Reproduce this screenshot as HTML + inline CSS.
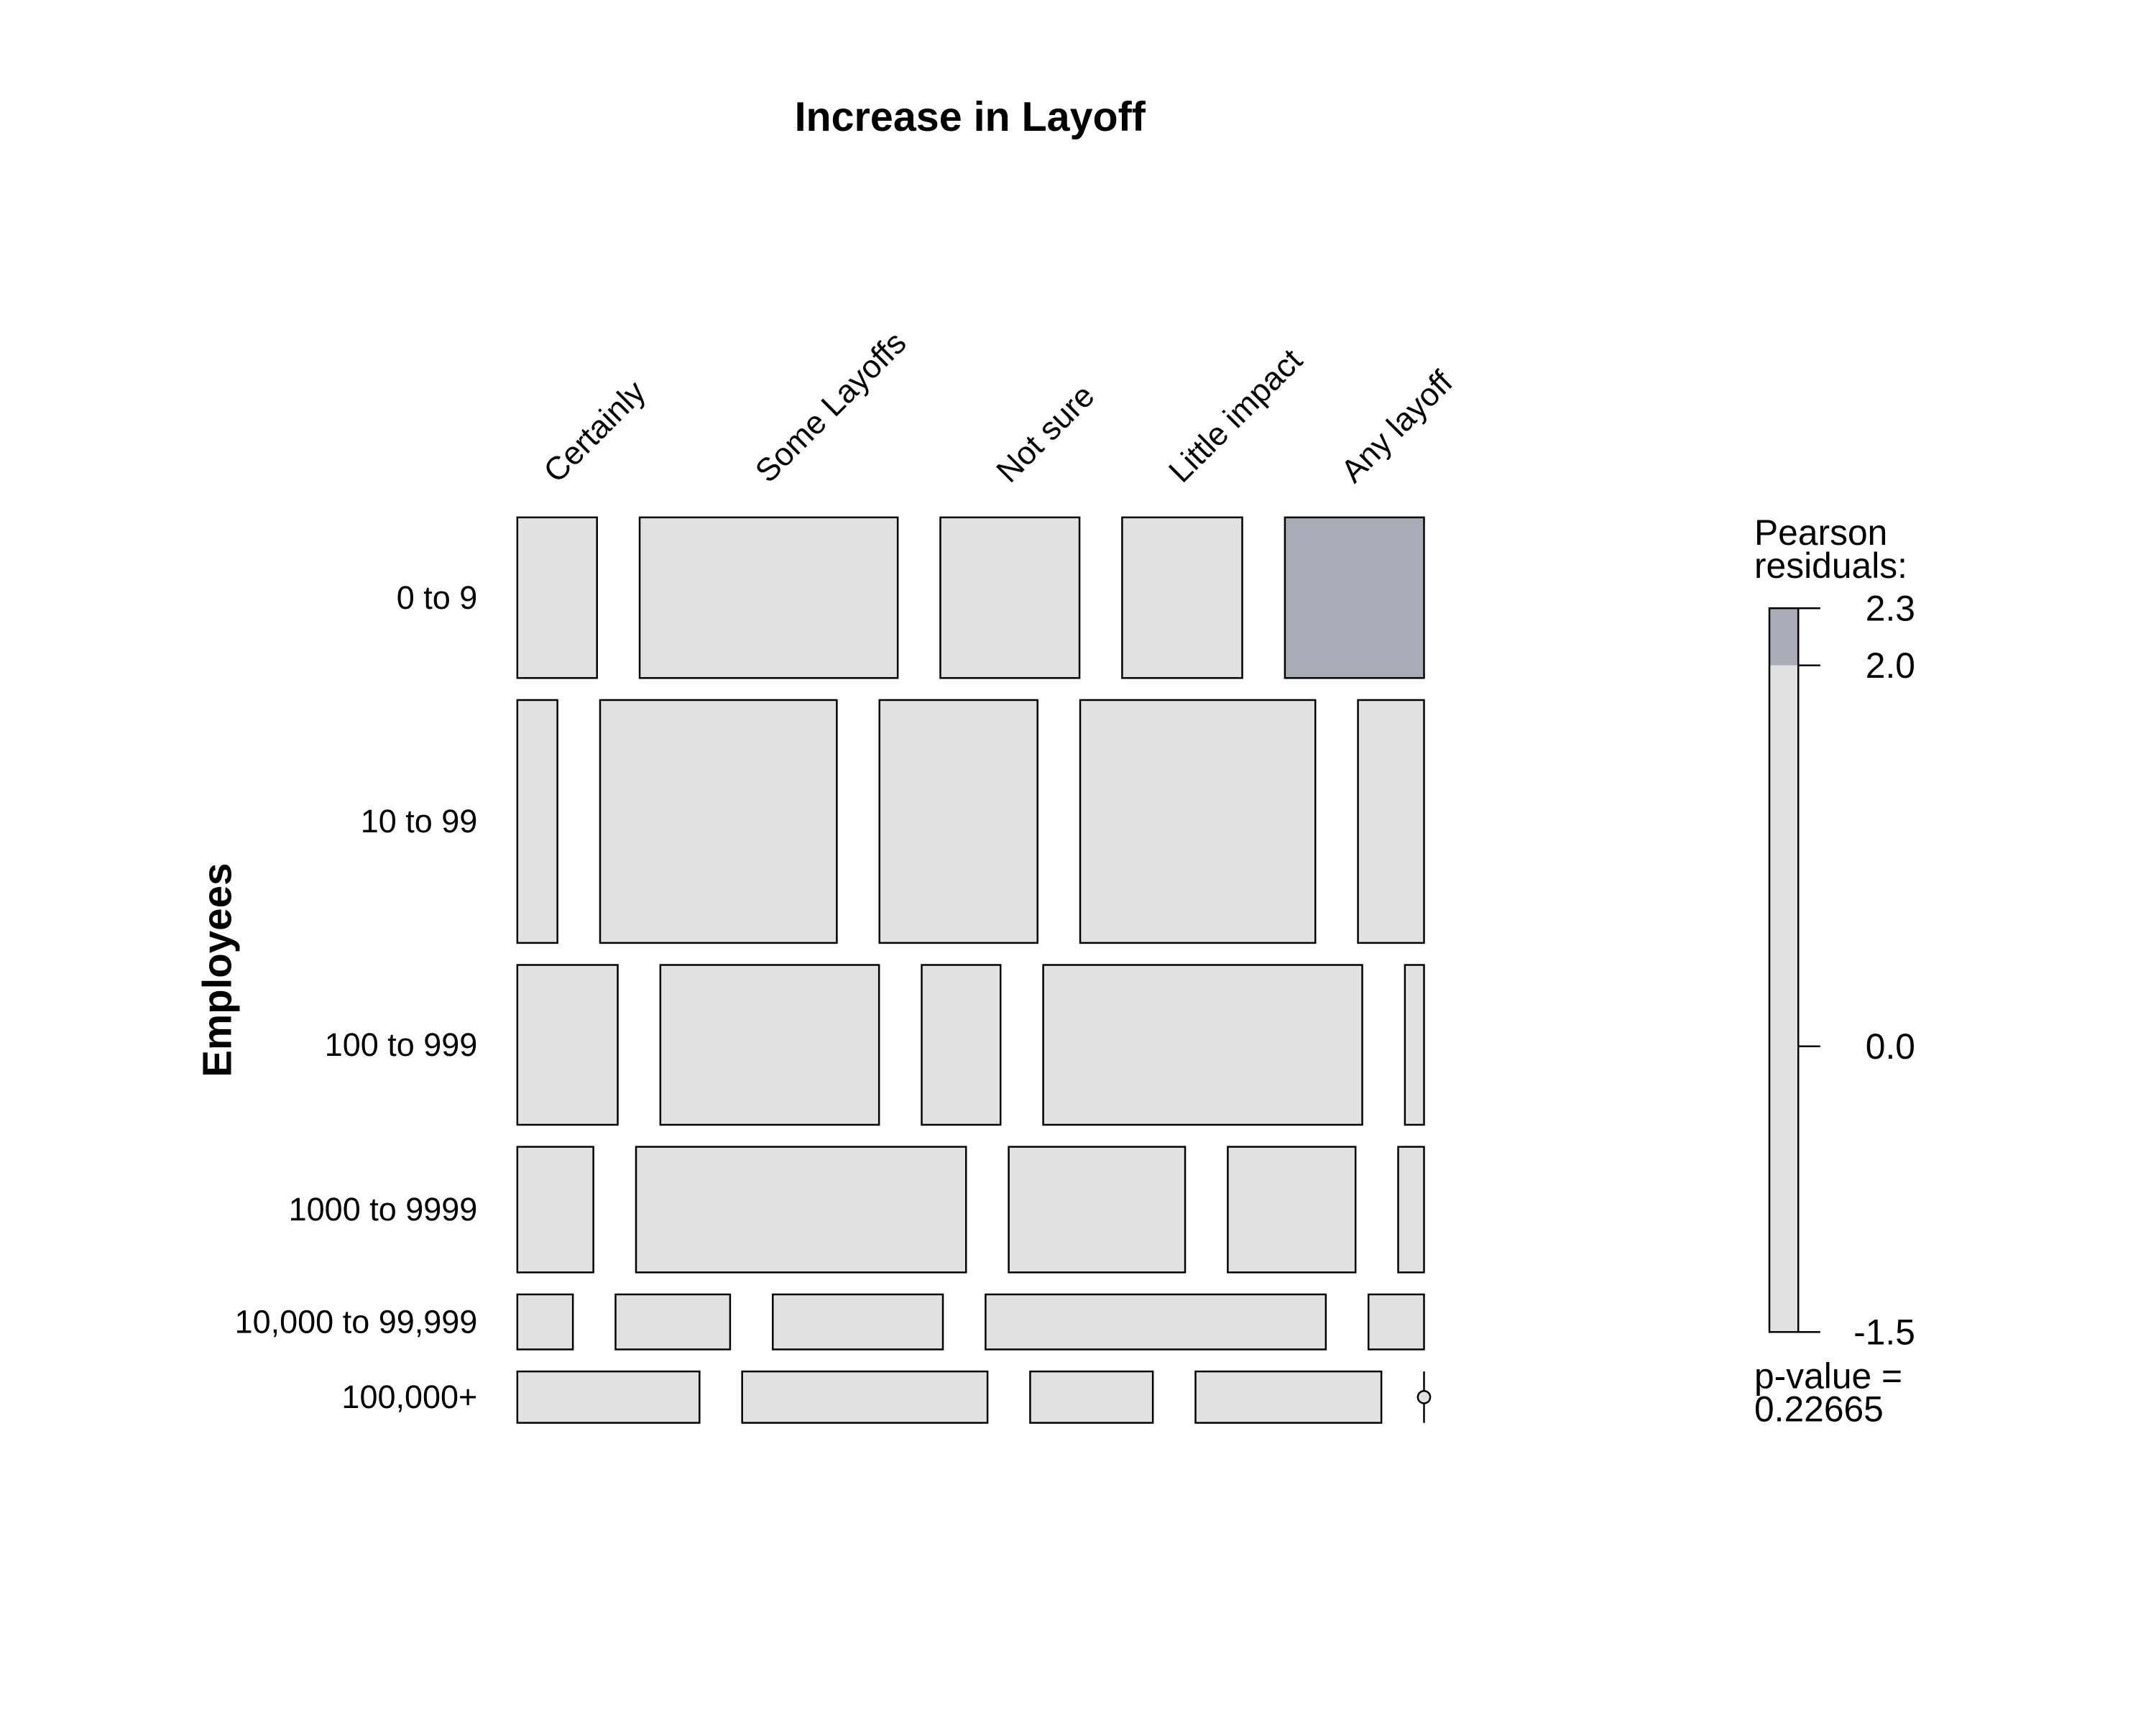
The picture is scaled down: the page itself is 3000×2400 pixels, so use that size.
<!DOCTYPE html>
<html><head><meta charset="utf-8"><style>html,body{margin:0;padding:0;background:#fff}svg{display:block}</style></head>
<body>
<svg id="chart" width="3000" height="2400" viewBox="0 0 1567 1253.6" xmlns="http://www.w3.org/2000/svg" font-family="Liberation Sans, Arial, sans-serif">
<rect width="1567" height="1254" fill="#fff"/>
<text x="705" y="95" text-anchor="middle" font-size="30" font-weight="bold">Increase in Layoff</text>
<text transform="translate(168,705) rotate(-90)" text-anchor="middle" font-size="29.5" font-weight="bold">Employees</text>
<g id="cells"></g>
<g id="legend"></g>
<text x="1275" y="396" font-size="26">Pearson</text>
<text x="1275" y="420" font-size="26">residuals:</text>
<text x="1275" y="1009" font-size="26">p-value =</text>
<text x="1275" y="1033" font-size="26">0.22665</text>
<script>
const cols = ["Certainly","Some Layoffs","Not sure","Little impact","Any layoff"];
const rows = ["0 to 9","10 to 99","100 to 999","1000 to 9999","10,000 to 99,999","100,000+"];
const row0 = [67,217,117,101,117];
const row1 = [51,301,201,299,84];
const row2 = [84,183,66,267,16];
const row3 = [50,217,116,84,17];
const row4 = [16,33,49,98,16];
const row5 = [49,66,33,50,0];
const resid0 = [-0.5,0.3,0.2,-0.8,2.3];
const resid1 = [-1.2,0.5,0.4,0.6,-0.4];
const resid2 = [0.9,-0.3,-0.6,0.8,-1.3];
const resid3 = [0.4,0.9,0.2,-0.7,-1.0];
const resid4 = [0.6,-0.2,0.3,0.6,0.5];
const resid5 = [1.3,0.4,-0.2,0.3,-1.5];
const legendTicks = [2.3,2.0,0.0,-1.5];
const legendLabels = ["2.3","2.0","0.0","-1.5"];

const counts=[row0,row1,row2,row3,row4,row5];
const resids=[resid0,resid1,resid2,resid3,resid4,resid5];
const NS='http://www.w3.org/2000/svg';
const X0=376,X1=1035,Y0=376,Y1=1034,VGAP=16,HGAP=31;
const g=document.getElementById('cells');
const rowTot=counts.map(r=>r.reduce((a,b)=>a+b,0));
const grand=rowTot.reduce((a,b)=>a+b,0);
const availH=(Y1-Y0)-VGAP*(rows.length-1);
const availW=(X1-X0)-HGAP*(cols.length-1);
function mk(t,a){const e=document.createElementNS(NS,t);for(const k in a)e.setAttribute(k,a[k]);return e;}
let y=Y0;
counts.forEach((r,i)=>{
  const h=rowTot[i]/grand*availH;
  let x=X0;
  r.forEach((c,j)=>{
    const w=c/rowTot[i]*availW;
    if(c>0){
      const rc=mk('rect',{x:x,y:y,width:w,height:h,fill:resids[i][j]>2?'#a9abb6':'#e1e1e1',stroke:'#000','stroke-width':1.3});
      
      
      g.appendChild(rc);
    } else {
      const ln=mk('line',{x1:x,x2:x,y1:y,y2:y+h,stroke:'#000','stroke-width':1.3});
      
      
      g.appendChild(ln);
      const ci=mk('circle',{cx:x,cy:y+h/2,r:4.5,fill:'#e1e1e1',stroke:'#000','stroke-width':1.3});
      
      
      g.appendChild(ci);
    }
    if(i===0){
      const t=mk('text',{transform:'translate('+(x+w/2)+',352) rotate(-45)','font-size':23.5});
      t.textContent=cols[j];
      
      
      g.appendChild(t);
    }
    x+=w+HGAP;
  });
  const t=mk('text',{x:347,y:y+h/2+8,'text-anchor':'end','font-size':23.5});
  t.textContent=rows[i];
  
  
  g.appendChild(t);
  y+=h+VGAP;
});
const lg=document.getElementById('legend');
const LT=442,LB=968,LX=1286,LW=21,RMAX=2.3,RMIN=-1.5;
const ly=v=>LT+(RMAX-v)/(RMAX-RMIN)*(LB-LT);
const r1=mk('rect',{x:LX,y:LT,width:LW,height:ly(2)-LT,fill:'#a9abb6'});


lg.appendChild(r1);
const r2=mk('rect',{x:LX,y:ly(2),width:LW,height:LB-ly(2),fill:'#e1e1e1'});


lg.appendChild(r2);
const r3=mk('rect',{x:LX,y:LT,width:LW,height:LB-LT,fill:'none',stroke:'#000','stroke-width':1.3});


lg.appendChild(r3);
legendTicks.forEach((v,k)=>{
  const l=mk('line',{x1:LX+LW,x2:1323,y1:ly(v),y2:ly(v),stroke:'#000','stroke-width':1.3});
  
  
  lg.appendChild(l);
  const t=mk('text',{x:1392,y:ly(v)+9,'text-anchor':'end','font-size':26});
  t.textContent=legendLabels[k];
  
  
  lg.appendChild(t);
});
</script>
</svg>
</body></html>
